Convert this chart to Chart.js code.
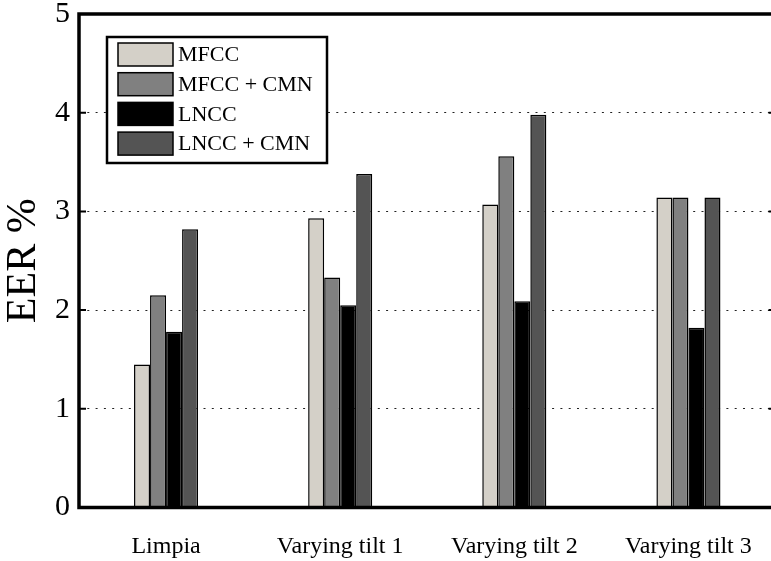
<!DOCTYPE html>
<html>
<head>
<meta charset="utf-8">
<script src="https://cdn.jsdelivr.net/npm/chart.js@4/dist/chart.umd.min.js"></script>
<style>
  html, body { margin: 0; padding: 0; background: #fff; overflow: hidden; }
  canvas { display: block; }
</style>
</head>
<body>
<canvas id="eer" width="777" height="561"></canvas>
<script>
// EER (%) per condition for each feature set
const conditions = ['Limpia', 'Varying tilt 1', 'Varying tilt 2', 'Varying tilt 3'];
const mfcc = [1.45, 2.93, 3.07, 3.14];
const mfccCmn = [2.15, 2.33, 3.56, 3.14];
const lncc = [1.78, 2.05, 2.09, 1.82];
const lnccCmn = [2.82, 3.38, 3.98, 3.14];
const yTicks = [0, 1, 2, 3, 4, 5];

const SERIF = '"Liberation Serif", "Times New Roman", serif';

const SERIES = [
  { label: 'MFCC', data: mfcc, color: '#d4d0c8' },
  { label: 'MFCC + CMN', data: mfccCmn, color: '#808080' },
  { label: 'LNCC', data: lncc, color: '#000000' },
  { label: 'LNCC + CMN', data: lnccCmn, color: '#545454' },
];

// Box around the axes plus the little inward ticks, MATLAB style
const framePlugin = {
  id: 'frame',
  afterDatasetsDraw(chart) {
    const { ctx, chartArea: a, scales } = chart;
    ctx.save();
    ctx.strokeStyle = '#000';
    ctx.lineWidth = 2;
    yTicks.forEach(v => {
      const y = scales.y.getPixelForValue(v);
      ctx.beginPath();
      ctx.moveTo(a.left, y);
      ctx.lineTo(a.left + 7, y);
      ctx.moveTo(a.right, y);
      ctx.lineTo(a.right - 7, y);
      ctx.stroke();
    });
    ctx.lineWidth = 3.5;
    ctx.strokeRect(a.left, a.top, a.right - a.left, a.bottom - a.top);
    ctx.restore();
  },
};

// Boxed legend in the upper-left corner of the plot
const boxLegend = {
  id: 'boxLegend',
  afterDraw(chart) {
    const { ctx } = chart;
    const x = 107, y = 37, w = 220, h = 126;
    ctx.save();
    ctx.fillStyle = '#fff';
    ctx.fillRect(x, y, w, h);
    ctx.lineWidth = 2.5;
    ctx.strokeStyle = '#000';
    ctx.strokeRect(x, y, w, h);
    ctx.font = '22px ' + SERIF;
    ctx.textBaseline = 'middle';
    chart.data.datasets.forEach((ds, i) => {
      const ry = y + 6 + i * 29.7;
      ctx.fillStyle = ds.backgroundColor;
      ctx.fillRect(x + 11, ry, 55, 23);
      ctx.lineWidth = 1.5;
      ctx.strokeRect(x + 11, ry, 55, 23);
      ctx.fillStyle = '#000';
      ctx.fillText(ds.label, x + 71, ry + 12.5);
    });
    ctx.restore();
  },
};

new Chart(document.getElementById('eer'), {
  type: 'bar',
  data: {
    labels: conditions,
    datasets: SERIES.map(s => ({
      label: s.label,
      data: s.data,
      backgroundColor: s.color,
      borderColor: '#000',
      borderWidth: 1.5,
      borderSkipped: 'bottom',
      barPercentage: 1,
      categoryPercentage: 0.368,
    })),
  },
  options: {
    responsive: false,
    animation: false,
    layout: { autoPadding: false, padding: { top: 14, right: 1.5, left: 0, bottom: 0 } },
    plugins: {
      legend: { display: false },
      tooltip: { enabled: false },
    },
    scales: {
      x: {
        grid: { display: false },
        border: { display: false },
        ticks: {
          color: '#000',
          padding: 17,
          maxRotation: 0,
          font: { family: SERIF, size: 24 },
        },
        afterFit(scale) {
          scale.height = 53.5;
          scale.paddingLeft = 0;
          scale.paddingRight = 0;
        },
      },
      y: {
        min: 0,
        max: 5,
        afterBuildTicks(scale) { scale.ticks = yTicks.map(v => ({ value: v })); },
        grid: { color: '#222', lineWidth: 1, drawTicks: false },
        border: { display: false, dash: [2, 6.3] },
        ticks: {
          color: '#000',
          padding: 9,
          font: { family: SERIF, size: 30 },
        },
        title: {
          display: true,
          text: 'EER %',
          color: '#000',
          padding: { top: 3, bottom: 0 },
          font: { family: SERIF, size: 42, lineHeight: 1 },
        },
        afterFit(scale) {
          scale.width = 79;
          scale.paddingTop = 0;
          scale.paddingBottom = 0;
        },
      },
    },
  },
  plugins: [framePlugin, boxLegend],
});
</script>
</body>
</html>
